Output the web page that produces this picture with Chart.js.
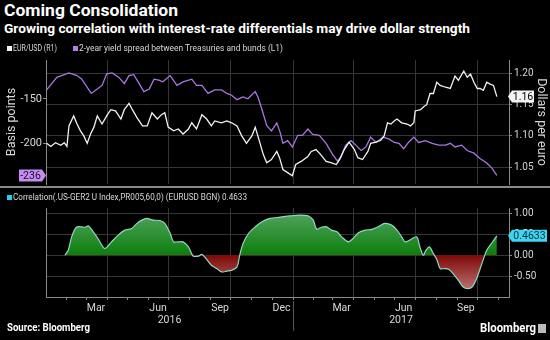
<!DOCTYPE html>
<html><head><meta charset="utf-8">
<script src="https://cdn.jsdelivr.net/npm/chart.js@4.4.0/dist/chart.umd.min.js"></script>
<style>
html,body{margin:0;padding:0;background:#000;}
#wrap{position:relative;width:550px;height:340px;background:#000;overflow:hidden;font-family:Roboto,"Liberation Sans",sans-serif;color:#fff;}
.t{position:absolute;white-space:nowrap;line-height:1;transform-origin:0 0;}
.sq{position:absolute;width:5px;height:5px;}
#sep{position:absolute;left:0;top:186px;width:550px;height:2px;background:#8a8a8a;}
#ico{position:absolute;left:538px;top:324px;width:8px;height:9px;background:#bbb;}
#c1{position:absolute;left:0;top:52px;}
#c2{position:absolute;left:0;top:200px;}
</style></head>
<body><div id="wrap">
<canvas id="c1" width="550" height="140"></canvas>
<canvas id="c2" width="550" height="132"></canvas>
<div id="sep"></div>
<div class="t" data-w="174" style="left:4px;top:2px;font-size:17px;font-weight:bold;">Coming Consolidation</div>
<div class="t" data-w="466" style="left:4px;top:23px;font-size:12px;font-weight:bold;">Growing correlation with interest-rate differentials may drive dollar strength</div>
<div class="sq" style="left:7px;top:46px;background:#f2f2f2"></div>
<div class="t" data-w="44" style="left:13px;top:44px;font-size:8.5px;color:#d8d8d8;">EUR/USD (R1)</div>
<div class="sq" style="left:73px;top:46px;background:#b77ce8"></div>
<div class="t" data-w="204" style="left:79px;top:44px;font-size:8.5px;color:#d8d8d8;">2-year yield spread between Treasuries and bunds (L1)</div>
<div class="sq" style="left:7px;top:195px;background:#22d3ee"></div>
<div class="t" data-w="234" style="left:13px;top:193px;font-size:8.5px;color:#d8d8d8;">Correlation(.US-GER2 U Index,PR005,60,0) (EURUSD BGN) 0.4633</div>
<div class="t" data-w="83" style="left:7px;top:323px;font-size:10.5px;font-weight:bold;">Source: Bloomberg</div>
<div class="t" data-w="56" style="left:480px;top:321px;font-size:13px;font-weight:bold;">Bloomberg</div>
<div id="ico"></div>
</div>
<script>
// ---- data (x = days since 2016-01-01) ----
const spreadDays = [1,16,34,46,53,67,76,83,90,98,108,116,123,130,138,145,153,160,167,173,184,194,203,216,223,231,240,250,260,268,275,283,292,299,310,314,320,327,334,342,347,351,358,365,373,380,388,395,405,415,425,432,437,444,452,459,467,474,481,489,499,508,516,523,530,537,545,552,562,572,582,592,599,606,616,624,634,643,653,661,668];
const spreadValues = [-140,-126,-121,-124,-128,-144,-139,-135,-122,-121,-126,-133,-124,-123,-133,-142,-139,-128,-129,-131,-124,-135,-131,-128,-135,-135,-144,-140,-140,-144,-146,-151,-148,-150,-142,-148,-162,-180,-186,-177,-188,-200,-197,-204,-191,-191,-184,-190,-191,-200,-213,-220,-215,-202,-197,-202,-208,-204,-193,-199,-193,-195,-199,-200,-206,-199,-193,-199,-197,-200,-202,-202,-200,-204,-202,-208,-211,-217,-222,-228,-236];
const eurDays = [1,7,14,22,27,31,34,41,46,51,56,61,66,71,76,83,91,96,103,111,116,123,128,135,143,150,157,165,171,176,181,189,196,203,211,216,223,231,238,245,250,260,268,275,283,290,297,305,310,315,322,327,334,342,346,351,358,365,370,378,388,393,400,407,415,422,430,435,442,449,457,462,469,477,481,489,496,501,506,511,516,520,527,535,540,545,547,555,560,564,569,574,579,584,592,599,606,611,619,624,629,634,639,643,648,653,658,663,668];
const eurValues = [1.088,1.083,1.089,1.085,1.089,1.083,1.116,1.132,1.119,1.108,1.100,1.088,1.103,1.114,1.132,1.119,1.134,1.142,1.140,1.127,1.142,1.152,1.142,1.129,1.116,1.116,1.137,1.127,1.134,1.137,1.114,1.108,1.111,1.103,1.111,1.121,1.111,1.134,1.127,1.116,1.124,1.121,1.124,1.121,1.116,1.100,1.088,1.100,1.114,1.096,1.070,1.057,1.062,1.075,1.065,1.046,1.041,1.036,1.054,1.059,1.067,1.075,1.078,1.070,1.059,1.057,1.054,1.062,1.078,1.090,1.078,1.065,1.062,1.075,1.088,1.090,1.093,1.100,1.121,1.119,1.124,1.127,1.121,1.119,1.116,1.121,1.140,1.142,1.147,1.150,1.168,1.168,1.186,1.181,1.178,1.176,1.196,1.189,1.204,1.194,1.199,1.186,1.176,1.176,1.173,1.186,1.183,1.181,1.163];
const corrDays = [28,33,38,45,53,58,63,70,77,87,97,107,117,127,134,142,149,159,169,176,184,189,196,203,211,218,226,231,238,245,253,260,268,275,283,287,292,300,310,320,332,347,361,376,389,396,401,408,416,423,431,438,448,455,463,473,483,492,502,512,520,527,532,539,549,554,559,563,568,574,579,584,591,597,603,611,618,625,632,638,645,653,660,668];
const corrValues = [0,0.12,0.44,0.67,0.68,0.67,0.70,0.56,0.40,0.16,0.32,0.48,0.60,0.64,0.75,0.84,0.88,0.84,0.83,0.76,0.52,0.32,0.32,0.32,0.20,-0.02,-0.02,0.02,-0.10,-0.24,-0.32,-0.40,-0.38,-0.36,-0.28,0,0.28,0.52,0.68,0.80,0.88,0.91,0.94,0.96,0.94,0.84,0.62,0.67,0.68,0.60,0.56,0.44,0.32,0.40,0.54,0.60,0.62,0.68,0.76,0.72,0.60,0.44,0.32,0.36,0.44,0.20,0,0.12,0.20,0.04,-0.10,-0.32,-0.32,-0.34,-0.44,-0.60,-0.76,-0.80,-0.75,-0.56,-0.24,0.12,0.28,0.4633];
// ---- axis ticks ----
const monthLabelDays = [74,166,258,349,438,530,622];
const monthLabels = ['Mar','Jun','Sep','Dec','Mar','Jun','Sep'];
const quarterDays = [91,182,274,366,456,547,639];
const monthStartDays = [31,60,91,121,152,182,213,244,274,305,335,366,397,425,456,486,517,547,578,609,639,670];
const yearStartDays = [0,366];
const yearLabels = ['2016','2017'];
const spreadTicks = [-150,-200];
const eurTicks = [1.05,1.10,1.15,1.20];
const corrTicks = [1.0,0.5,0,-0.5];
const xMax = 686;

// fit HTML text widths to the reference
document.querySelectorAll('.t[data-w]').forEach(el=>{
  const w = el.getBoundingClientRect().width;
  if (w > 0) el.style.transform = 'scaleX(' + (parseFloat(el.dataset.w)/w) + ')';
});

const F = 'Roboto,"Liberation Sans",sans-serif';
Chart.defaults.font.family = F;
Chart.defaults.color = '#d8d8d8';
const GRID = '#363636', AXIS = '#8a8a8a', TXT = '#d8d8d8';

function pts(xs, ys){ return xs.map((x,i)=>({x:x, y:ys[i]})); }

function badge(ctx, x0, x1, y, text, bg, fg, side){
  const h = 12;
  ctx.save();
  ctx.fillStyle = bg;
  ctx.beginPath();
  if (side === 'left') {
    ctx.moveTo(x0-4, y); ctx.lineTo(x0, y-h/2); ctx.lineTo(x1, y-h/2); ctx.lineTo(x1, y+h/2); ctx.lineTo(x0, y+h/2);
  } else {
    ctx.moveTo(x0, y-h/2); ctx.lineTo(x1, y-h/2); ctx.lineTo(x1+4, y); ctx.lineTo(x1, y+h/2); ctx.lineTo(x0, y+h/2);
  }
  ctx.closePath(); ctx.fill();
  ctx.fillStyle = fg; ctx.font = '10.5px ' + F; ctx.textAlign = 'center'; ctx.textBaseline = 'middle';
  ctx.fillText(text, (x0+x1)/2, y+0.5);
  ctx.restore();
}

const xCommon = { type:'linear', min:0, max:xMax };

// ---- top chart ----
new Chart(document.getElementById('c1'), {
  type:'line',
  data:{datasets:[
    {label:'EUR/USD (R1)', data:pts(eurDays, eurValues), yAxisID:'yR', borderColor:'#f2f2f2', borderWidth:1.3, pointRadius:0, tension:0},
    {label:'2-year yield spread between Treasuries and bunds (L1)', data:pts(spreadDays, spreadValues), yAxisID:'yL', borderColor:'#a877e0', borderWidth:1.3, pointRadius:0, tension:0}
  ]},
  options:{
    responsive:false, animation:false, events:[],
    layout:{padding:{top:6,bottom:6,left:0,right:0}},
    plugins:{legend:{display:false}, tooltip:{enabled:false}},
    scales:{
      x:Object.assign({}, xCommon, {
        afterBuildTicks:s=>{s.ticks = quarterDays.map(v=>({value:v}));},
        ticks:{display:false}, grid:{color:GRID, drawTicks:false}, border:{display:false},
        afterFit:s=>{s.height=0;}
      }),
      yL:{type:'linear', position:'left', min:-245.6, max:-106.5,
        afterBuildTicks:s=>{s.ticks = spreadTicks.map(v=>({value:v}));},
        ticks:{color:TXT, font:{size:11}, padding:1, callback:v=>String(v)},
        grid:{drawOnChartArea:false, tickLength:3, color:AXIS},
        border:{display:true, color:AXIS},
        title:{display:true, text:'Basis points', color:TXT, font:{size:12.5}, padding:{top:4,bottom:0}},
        afterFit:s=>{s.width=46;}
      },
      yR:{type:'linear', position:'right', min:1.0228, max:1.2217,
        afterBuildTicks:s=>{s.ticks = eurTicks.map(v=>({value:v}));},
        ticks:{color:TXT, font:{size:10}, padding:2, callback:v=>v.toFixed(2)},
        grid:{color:GRID, tickLength:3, tickColor:AXIS},
        border:{display:true, color:AXIS},
        title:{display:true, text:'Dollars per euro', color:TXT, font:{size:12.5}, padding:{top:1,bottom:0}},
        afterFit:s=>{s.width=41;}
      }
    }
  },
  plugins:[{id:'badges1', afterDraw(ch){
    const ctx = ch.ctx, a = ch.chartArea;
    const sv = spreadValues[spreadValues.length-1];
    badge(ctx, 19, a.left-4, ch.scales.yL.getPixelForValue(sv), String(Math.round(sv)), '#c58cf2', '#1a0a22', 'right');
    const ev = eurValues[eurValues.length-1];
    badge(ctx, a.right+3, a.right+25, ch.scales.yR.getPixelForValue(ev), ev.toFixed(2), '#f4f4f4', '#000', 'left');
  }}]
});

// ---- bottom chart ----
function corrFill(c){
  const ch = c.chart, a = ch.chartArea, s = ch.scales && ch.scales.yR;
  if (!a || !s) return 'rgba(20,130,20,0.9)';
  let z = (s.getPixelForValue(0) - a.top) / (a.bottom - a.top);
  z = Math.min(1, Math.max(0, z));
  const g = ch.ctx.createLinearGradient(0, a.top, 0, a.bottom);
  g.addColorStop(0, '#5aa868'); g.addColorStop(z, '#0c7e0c');
  g.addColorStop(z, '#7e0707'); g.addColorStop(1, '#c88888');
  return g;
}
const allXTicks = Array.from(new Set(monthStartDays.concat(monthLabelDays))).sort((a,b)=>a-b);
new Chart(document.getElementById('c2'), {
  type:'line',
  data:{datasets:[
    {label:'Correlation(.US-GER2 U Index,PR005,60,0) (EURUSD BGN)', data:pts(corrDays, corrValues), yAxisID:'yR',
     borderColor:'#8fd8c2', borderWidth:1.2, pointRadius:0, tension:0.3, fill:{target:{value:0}}, backgroundColor:corrFill}
  ]},
  options:{
    responsive:false, animation:false, events:[],
    layout:{padding:{top:8,bottom:0,left:0,right:0}},
    plugins:{legend:{display:false}, tooltip:{enabled:false}},
    scales:{
      x:Object.assign({}, xCommon, {
        afterBuildTicks:s=>{s.ticks = allXTicks.map(v=>({value:v}));},
        ticks:{color:TXT, font:{size:10.5}, padding:2, autoSkip:false, maxRotation:0,
          callback:v=>{const i = monthLabelDays.indexOf(v); return i>=0 ? monthLabels[i] : '';}},
        grid:{color:c=> (c.tick && quarterDays.includes(c.tick.value)) ? GRID : 'rgba(0,0,0,0)',
              tickColor:c=> (c.tick && monthStartDays.includes(c.tick.value)) ? AXIS : 'rgba(0,0,0,0)', tickLength:3},
        border:{display:true, color:AXIS},
        afterFit:s=>{s.height=35;}
      }),
      yL:{type:'linear', position:'left', min:-1.0, max:1.13,
        ticks:{display:false}, grid:{drawOnChartArea:false, drawTicks:false},
        border:{display:true, color:AXIS},
        afterFit:s=>{s.width=46;}
      },
      yR:{type:'linear', position:'right', min:-1.0, max:1.13,
        afterBuildTicks:s=>{s.ticks = corrTicks.map(v=>({value:v}));},
        ticks:{color:TXT, font:{size:10}, padding:2, callback:v=>v.toFixed(2)},
        grid:{color:GRID, tickLength:3, tickColor:AXIS},
        border:{display:true, color:AXIS},
        afterFit:s=>{s.width=41;}
      }
    }
  },
  plugins:[{id:'extras2', afterDraw(ch){
    const ctx = ch.ctx, a = ch.chartArea, x = ch.scales.x;
    ctx.save();
    ctx.fillStyle = TXT; ctx.font = '10.5px ' + F; ctx.textAlign = 'center'; ctx.textBaseline = 'middle';
    const bounds = yearStartDays.concat([xMax]);
    for (let i=0;i<yearLabels.length;i++){
      const xa = x.getPixelForValue(bounds[i]), xb = x.getPixelForValue(bounds[i+1]);
      ctx.fillText(yearLabels[i], (xa+xb)/2, a.bottom+23);
    }
    ctx.strokeStyle = '#555'; ctx.lineWidth = 1;
    for (let i=1;i<yearStartDays.length;i++){
      const px = Math.round(x.getPixelForValue(yearStartDays[i]))+0.5;
      ctx.beginPath(); ctx.moveTo(px, a.bottom+4); ctx.lineTo(px, a.bottom+34); ctx.stroke();
    }
    ctx.restore();
    const cv = corrValues[corrValues.length-1];
    badge(ctx, a.right+3, a.right+38, ch.scales.yR.getPixelForValue(cv), cv.toFixed(4), '#3fd4ef', '#06303a', 'left');
  }}]
});
</script>
</body></html>
